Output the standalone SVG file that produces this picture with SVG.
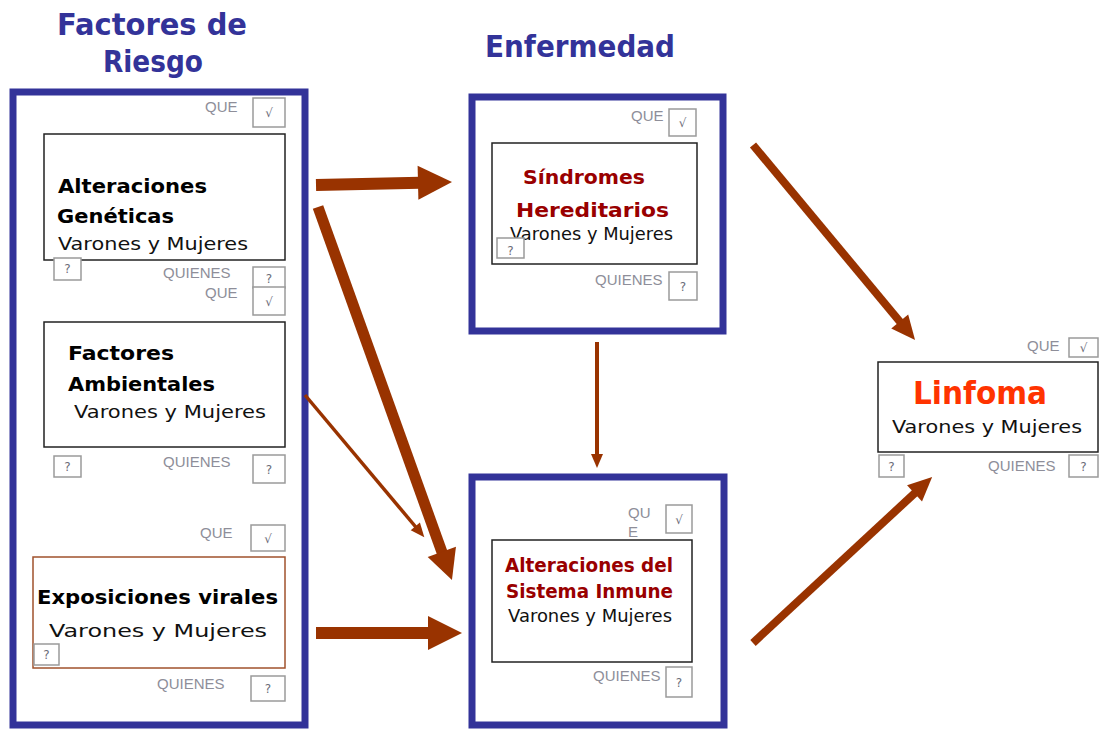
<svg xmlns="http://www.w3.org/2000/svg" width="1102" height="731" viewBox="0 0 1102 731">
<style>
.title{font-family:"DejaVu Sans","Liberation Sans",sans-serif;font-weight:bold;font-size:30px;fill:#333399}
.frame{fill:none;stroke:#333399;stroke-width:7}
.inner{fill:#fff;stroke:#222;stroke-width:1.5}
.innerB{fill:#fff;stroke:#a0522d;stroke-width:1.5}
.hb{font-family:"DejaVu Sans","Liberation Sans",sans-serif;font-weight:bold;font-size:20px;fill:#000}
.hr{font-family:"DejaVu Sans","Liberation Sans",sans-serif;font-weight:bold;font-size:19px;fill:#990000}
.vm{font-family:"DejaVu Sans","Liberation Sans",sans-serif;font-size:18px;fill:#111}
.lbl{font-family:"Liberation Sans",Arial,sans-serif;font-size:15px;fill:#8e8e99}
.cb{fill:#fff;stroke:#9a9a9a;stroke-width:1.5}
.cbt{font-family:"DejaVu Sans","Liberation Sans",sans-serif;font-size:12px;fill:#6b6b78;text-anchor:middle}
.arr{stroke:#993300;fill:none}
.head{fill:#993300}
</style>
<defs>
<marker id="hBig" markerUnits="userSpaceOnUse" markerWidth="34" markerHeight="34" refX="2" refY="17" orient="auto" overflow="visible"><path class="head" d="M0,0 L34,17 L0,34 z"/></marker>
<marker id="hMid" markerUnits="userSpaceOnUse" markerWidth="30" markerHeight="30" refX="2" refY="15" orient="auto" overflow="visible"><path class="head" d="M0,0 L30,15 L0,30 z"/></marker>
<marker id="hMed" markerUnits="userSpaceOnUse" markerWidth="24" markerHeight="22" refX="2" refY="11" orient="auto" overflow="visible"><path class="head" d="M0,0 L24,11 L0,22 z"/></marker>
<marker id="hSmall" markerUnits="userSpaceOnUse" markerWidth="14" markerHeight="12" refX="2" refY="6" orient="auto" overflow="visible"><path class="head" d="M0,0 L14,6 L0,12 z"/></marker>
</defs>
<rect width="1102" height="731" fill="#fff"/>

<g id="titles">
<text class="title" x="57" y="35" textLength="190" lengthAdjust="spacingAndGlyphs">Factores de</text>
<text class="title" x="103" y="72" textLength="100" lengthAdjust="spacingAndGlyphs">Riesgo</text>
<text class="title" x="485" y="57" textLength="190" lengthAdjust="spacingAndGlyphs">Enfermedad</text>
</g>

<g id="factores-riesgo">
<rect class="frame" x="13" y="92" width="292" height="633"/>
</g>

<g id="alteraciones-geneticas">
<rect class="inner" x="44" y="134" width="241" height="126"/>
<text class="hb" x="58" y="193" textLength="149" lengthAdjust="spacingAndGlyphs">Alteraciones</text>
<text class="hb" x="57" y="223" textLength="117" lengthAdjust="spacingAndGlyphs">Genéticas</text>
<text class="vm" x="58" y="250" textLength="190" lengthAdjust="spacingAndGlyphs">Varones y Mujeres</text>
<text class="lbl" x="205" y="112">QUE</text>
<rect class="cb" x="253" y="98" width="32" height="29"/><text class="cbt" x="269" y="117">√</text>
<rect class="cb" x="54" y="258" width="27" height="22"/><text class="cbt" x="67.5" y="273">?</text>
<text class="lbl" x="163" y="278">QUIENES</text>
<rect class="cb" x="253" y="267" width="32" height="21"/><text class="cbt" x="269" y="283">?</text>
</g>

<g id="factores-ambientales">
<rect class="inner" x="44" y="322" width="241" height="125"/>
<text class="lbl" x="205" y="298">QUE</text>
<rect class="cb" x="253" y="287" width="32" height="28"/><text class="cbt" x="269" y="306">√</text>
<text class="hb" x="68" y="360" textLength="106" lengthAdjust="spacingAndGlyphs">Factores</text>
<text class="hb" x="68" y="391" textLength="147" lengthAdjust="spacingAndGlyphs">Ambientales</text>
<text class="vm" x="74" y="418" textLength="192" lengthAdjust="spacingAndGlyphs">Varones y Mujeres</text>
<rect class="cb" x="54" y="456" width="27" height="21"/><text class="cbt" x="67.5" y="471">?</text>
<text class="lbl" x="163" y="467">QUIENES</text>
<rect class="cb" x="253" y="455" width="32" height="28"/><text class="cbt" x="269" y="474">?</text>
</g>

<g id="exposiciones-virales">
<text class="lbl" x="200" y="538">QUE</text>
<rect class="cb" x="251" y="525" width="34" height="26"/><text class="cbt" x="268" y="543">√</text>
<rect class="innerB" x="33" y="557" width="252" height="111"/>
<text class="hb" x="37" y="604" font-size="21" textLength="241" lengthAdjust="spacingAndGlyphs">Exposiciones virales</text>
<text class="vm" x="49" y="637" font-size="21" textLength="218" lengthAdjust="spacingAndGlyphs">Varones y Mujeres</text>
<rect class="cb" x="34" y="644" width="25" height="21"/><text class="cbt" x="46.5" y="659">?</text>
<text class="lbl" x="157" y="689">QUIENES</text>
<rect class="cb" x="251" y="676" width="34" height="25"/><text class="cbt" x="268" y="693">?</text>
</g>

<g id="sindromes-hereditarios">
<rect class="frame" x="472" y="97" width="251" height="234"/>
<text class="lbl" x="631" y="121">QUE</text>
<rect class="cb" x="669" y="109" width="27" height="27"/><text class="cbt" x="682.5" y="127">√</text>
<rect class="inner" x="492" y="143" width="205" height="121"/>
<text class="hr" x="523" y="184" textLength="122" lengthAdjust="spacingAndGlyphs">Síndromes</text>
<text class="hr" x="516" y="217" textLength="153" lengthAdjust="spacingAndGlyphs">Hereditarios</text>
<text class="vm" x="510" y="240" font-size="16" textLength="163" lengthAdjust="spacingAndGlyphs">Varones y Mujeres</text>
<rect class="cb" x="497" y="238" width="27" height="20"/><text class="cbt" x="510.5" y="255">?</text>
<text class="lbl" x="595" y="285">QUIENES</text>
<rect class="cb" x="669" y="272" width="28" height="28"/><text class="cbt" x="683" y="291">?</text>
</g>

<g id="sistema-inmune">
<rect class="frame" x="472" y="477" width="252" height="248"/>
<text class="lbl" x="628" y="518">QU</text>
<text class="lbl" x="628" y="537">E</text>
<rect class="cb" x="666" y="505" width="26" height="28"/><text class="cbt" x="679" y="524">√</text>
<rect class="inner" x="492" y="540" width="200" height="122"/>
<text class="hr" x="505" y="572" textLength="168" lengthAdjust="spacingAndGlyphs">Alteraciones del</text>
<text class="hr" x="506" y="598" textLength="167" lengthAdjust="spacingAndGlyphs">Sistema Inmune</text>
<text class="vm" x="508" y="622" font-size="16" textLength="164" lengthAdjust="spacingAndGlyphs">Varones y Mujeres</text>
<text class="lbl" x="593" y="681">QUIENES</text>
<rect class="cb" x="666" y="667" width="26" height="30"/><text class="cbt" x="679" y="687">?</text>
</g>

<g id="linfoma">
<text class="lbl" x="1027" y="351">QUE</text>
<rect class="cb" x="1069" y="338" width="29" height="19"/><text class="cbt" x="1083.5" y="352">√</text>
<rect class="inner" x="878" y="362" width="220" height="90"/>
<text x="913" y="404" font-family="DejaVu Sans, Liberation Sans, sans-serif" font-weight="bold" font-size="32" fill="#ff3300" textLength="134" lengthAdjust="spacingAndGlyphs">Linfoma</text>
<text class="vm" x="892" y="433" font-size="19" textLength="190" lengthAdjust="spacingAndGlyphs">Varones y Mujeres</text>
<rect class="cb" x="879" y="455" width="25" height="22"/><text class="cbt" x="891.5" y="471">?</text>
<text class="lbl" x="988" y="471">QUIENES</text>
<rect class="cb" x="1069" y="455" width="29" height="22"/><text class="cbt" x="1083.5" y="471">?</text>
</g>

<g id="connectors">
<line class="arr" x1="316" y1="185" x2="420" y2="182.7" stroke-width="12" marker-end="url(#hBig)"/>
<line class="arr" x1="318" y1="207" x2="442.5" y2="553.7" stroke-width="11" marker-end="url(#hMid)"/>
<line class="arr" x1="305" y1="395" x2="416.6" y2="528" stroke-width="3.5" marker-end="url(#hSmall)"/>
<line class="arr" x1="316" y1="633" x2="430" y2="633" stroke-width="12" marker-end="url(#hBig)"/>
<line class="arr" x1="597" y1="342" x2="597" y2="456" stroke-width="4" marker-end="url(#hSmall)"/>
<line class="arr" x1="753" y1="145" x2="901" y2="323" stroke-width="8" marker-end="url(#hMed)"/>
<line class="arr" x1="753" y1="643" x2="916" y2="492" stroke-width="8" marker-end="url(#hMed)"/>
</g>
</svg>
